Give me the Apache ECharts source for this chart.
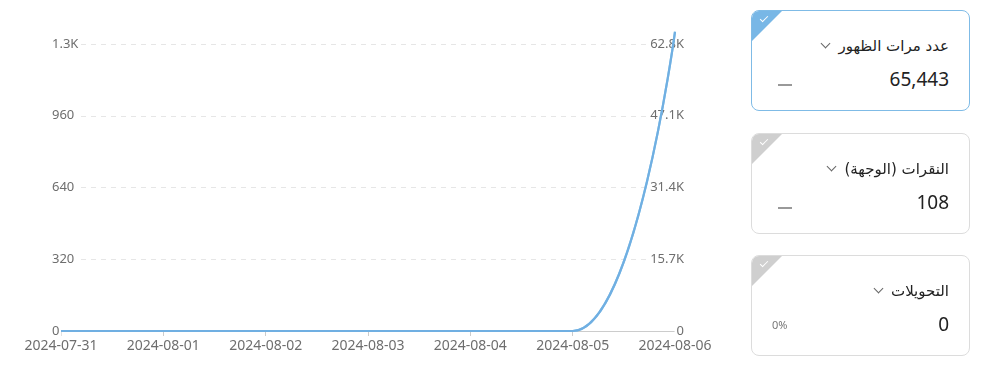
<!DOCTYPE html>
<html><head><meta charset="utf-8">
<script src="https://cdn.jsdelivr.net/npm/echarts@6/dist/echarts.min.js"></script>
<style>
html,body{margin:0;padding:0;background:#fff;width:997px;height:386px;overflow:hidden;}
#chart{position:absolute;left:0;top:0;width:997px;height:386px;}
.card{position:absolute;left:751px;width:219px;height:101px;box-sizing:border-box;border:1px solid #dcdcdc;border-radius:8px;background:#fff;overflow:hidden;font-family:"Segoe UI","DejaVu Sans","Noto Sans",sans-serif;}
.card.sel{border-color:#7fbbe6;}
.corner{position:absolute;left:0;top:0;width:0;height:0;border-top:30px solid #cfcfcf;border-right:30px solid transparent;}
.sel .corner{border-top-color:#78b7e6;}
.check{position:absolute;left:8px;top:5px;width:7px;height:3px;border-left:1.5px solid #fff;border-bottom:1.5px solid #fff;transform:rotate(-45deg);}
.title{position:absolute;right:20px;top:26px;font-size:15px;color:#222;direction:rtl;white-space:nowrap;}
.chev{display:inline-block;width:6px;height:6px;border-right:1px solid #666;border-bottom:1px solid #666;transform:rotate(45deg);margin-right:9px;position:relative;top:-4px;}
.val{position:absolute;right:20px;top:55px;font-size:19px;color:#222;font-family:"Segoe UI","Noto Sans","Open Sans",sans-serif;}
.dash{position:absolute;left:26px;top:73px;width:14px;height:1.5px;background:#999;}
.pct{position:absolute;left:20px;top:61px;font-size:11px;color:#777;font-family:"Noto Sans",sans-serif;}
</style></head>
<body>
<div id="chart"></div>
<div class="card sel" style="top:10px"><div class="corner"></div><div class="check"></div>
 <div class="title" id="t0"></div><div class="val" id="v0"></div><div class="dash"></div></div>
<div class="card" style="top:133px"><div class="corner"></div><div class="check"></div>
 <div class="title" id="t1"></div><div class="val" id="v1"></div><div class="dash"></div></div>
<div class="card" style="top:255px"><div class="corner"></div><div class="check"></div>
 <div class="title" id="t2"></div><div class="val" id="v2"></div><div class="pct">0%</div></div>
<script>
var dates = ['2024-07-31','2024-08-01','2024-08-02','2024-08-03','2024-08-04','2024-08-05','2024-08-06'];
var impressions = [0,0,0,0,0,0,65443];
var clicks = [0,0,0,0,0,0,1335];
var leftTicks = [0,320,640,960,1280];
var rightTicks = [0,15700,31400,47100,62800];
var cardTitles = ['عدد مرات الظهور','النقرات (الوجهة)','التحويلات'];
var cardValues = ['65,443','108','0'];

for (var i=0;i<3;i++){
  var t=document.getElementById('t'+i);
  t.innerHTML='<span>'+cardTitles[i]+'</span><span class="chev"></span>';
  document.getElementById('v'+i).textContent=cardValues[i];
}
function fmtK(v){ if(v===0) return '0'; if(v>=1000) return (v/1000).toFixed(1).replace(/\.0$/,'')+'K'; return String(v);}
var chart = echarts.init(document.getElementById('chart'));
var lblBase = {color:'#6e6e6e',fontSize:13,fontFamily:'Segoe UI, Noto Sans, sans-serif',backgroundColor:'#fff',padding:[0,2]};
chart.setOption({
  animation:false,
  grid:{left:61,right:322,top:44,bottom:55},
  xAxis:{type:'category',data:dates,boundaryGap:false,
    axisLine:{lineStyle:{color:'#cccccc'}},
    axisTick:{show:true,length:5,lineStyle:{color:'#cccccc'}},
    axisLabel:{color:'#6e6e6e',fontSize:14,fontFamily:'Segoe UI, Noto Sans, sans-serif',margin:8}},
  yAxis:[
    {type:'value',min:leftTicks[0],max:leftTicks[leftTicks.length-1],interval:leftTicks[1]-leftTicks[0],
     axisLine:{show:false},axisTick:{show:false},
     splitLine:{lineStyle:{color:'#e6e6e6',type:[5,5]}},
     axisLabel:Object.assign({},lblBase,{align:'left',margin:11,formatter:fmtK})},
    {type:'value',min:rightTicks[0],max:rightTicks[rightTicks.length-1],interval:rightTicks[1]-rightTicks[0],
     position:'right',axisLine:{show:false},axisTick:{show:false},splitLine:{show:false},
     axisLabel:Object.assign({},lblBase,{align:'right',margin:11,formatter:fmtK})}
  ],
  series:[
    {type:'line',yAxisIndex:0,data:clicks,smooth:0.4,showSymbol:false,clip:false,
     lineStyle:{color:'#8cc8ec',width:2.2},z:3},
    {type:'line',yAxisIndex:1,data:impressions,smooth:0.4,showSymbol:false,clip:false,
     lineStyle:{color:'#70afe2',width:2.2},z:4}
  ]
});
</script>
</body></html>
